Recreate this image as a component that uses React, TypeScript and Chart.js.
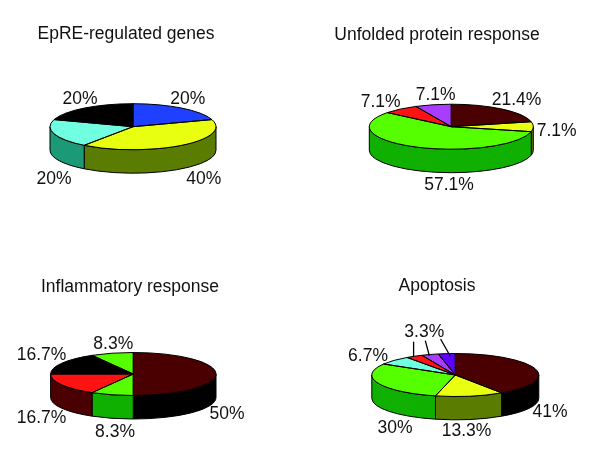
import React, { useEffect, useRef } from "react";
import { Chart, registerables } from "chart.js";

Chart.register(...registerables);

// ---- values ----
const epreValues = [20, 40, 20, 20];
const epreLabels = ["20%", "40%", "20%", "20%"];
const upValues = [21.4, 7.1, 57.1, 7.1, 7.1];
const upLabels = ["21.4%", "7.1%", "57.1%", "7.1%", "7.1%"];
const infValues = [50, 8.3, 16.7, 16.7, 8.3];
const infLabels = ["50%", "8.3%", "16.7%", "16.7%", "8.3%"];
const apoValues = [41, 13.3, 30, 6.7, 3.3, 3.3, 3.3];
const apoLabels = ["41%", "13.3%", "30%", "6.7%", "", "3.3%", ""];

// ---- colours ----
const BLUE = "#1f40ff", YELLOW = "#e8ff10", CYAN = "#70ffe0", BLACK = "#000000";
const MAROON = "#4a0000", GREEN = "#55ff00", RED = "#ff1212", PURPLE = "#a83cff", VIOLET = "#6200ff";
const OLIVE = "#5a7c00", TEAL = "#1c9a78", DGREEN = "#10b000", DBLUE = "#102090";

// ---- layout: label centres relative to the pie centre, leader lines ----
const epreLabelPos = [[54.7, -28], [70.7, 52.7], [-79, 52.7], [-53, -28]];
const upLabelPos = [[65.3, -26.3], [105.3, 4.3], [-2.3, 58.3], [-70.7, -25], [-15.7, -31.7]];
const infLabelPos = [[93.7, 40], [-18.3, 57.7], [-91.7, 43.7], [-91.7, -19], [-20, -29.7]];
const apoLabelPos = [[94.7, 37.3], [11.3, 55.7], [-60.3, 53.3], [-87.3, -19], [0, 0], [-31, -42.7], [0, 0]];
const apoLeaders = [[-41.7, -33.3, -41.7, -18.3], [-30, -34.3, -26, -19.3], [-14.7, -36, -5, -18.7]];

const FONT = "Liberation Sans, Arial, Helvetica, sans-serif";
const FONT_SIZE = 17.5;
const TITLE_COLOR = "#111111";
const CANVAS_H = 229;

type PieCfg = {
  title: string;
  values: number[];
  labels: string[];
  colors: string[];
  sides: string[];
  labelPos: number[][];
  leaders?: number[][];
  left: number; top: number; width: number;
  cx: number; cy: number; titleY: number;
  rx: number; ry: number; depth: number;
};

const pies: PieCfg[] = [
  { title: "EpRE-regulated genes", values: epreValues, labels: epreLabels,
    colors: [BLUE, YELLOW, CYAN, BLACK], sides: [DBLUE, OLIVE, TEAL, BLACK], labelPos: epreLabelPos,
    left: 0, top: 0, width: 252, cx: 133, cy: 126.7, titleY: 34, rx: 83, ry: 23, depth: 23.5 },
  { title: "Unfolded protein response", values: upValues, labels: upLabels,
    colors: [MAROON, YELLOW, GREEN, RED, PURPLE], sides: [BLACK, OLIVE, DGREEN, MAROON, PURPLE], labelPos: upLabelPos,
    left: 274, top: 0, width: 326, cx: 177.3, cy: 126.7, titleY: 35, rx: 82, ry: 22.5, depth: 23.5 },
  { title: "Inflammatory response", values: infValues, labels: infLabels,
    colors: [MAROON, GREEN, RED, BLACK, GREEN], sides: [BLACK, DGREEN, MAROON, BLACK, DGREEN], labelPos: infLabelPos,
    left: 0, top: 229, width: 260, cx: 133.3, cy: 145, titleY: 58, rx: 82.7, ry: 21.5, depth: 23.5 },
  { title: "Apoptosis", values: apoValues, labels: apoLabels,
    colors: [MAROON, YELLOW, GREEN, CYAN, RED, PURPLE, VIOLET], sides: [BLACK, OLIVE, DGREEN, TEAL, MAROON, PURPLE, VIOLET], labelPos: apoLabelPos, leaders: apoLeaders,
    left: 274, top: 229, width: 326, cx: 181.3, cy: 146, titleY: 57, rx: 83.5, ry: 21.5, depth: 23.3 },
];

function makePlugin(p: PieCfg) {
  const k = p.ry / p.rx;
  return {
    id: "tiltedPie",
    afterLayout(chart: any) {
      // centre the title on the whole canvas, not on the padded pie area
      if (chart.titleBlock) {
        chart.titleBlock.left = 0;
        chart.titleBlock.right = p.width;
      }
    },
    beforeDatasetsDraw(chart: any) {
      const { ctx } = chart;
      const arcs = chart.getDatasetMeta(0).data;
      ctx.save();
      ctx.strokeStyle = "#000";
      ctx.lineWidth = 1;
      arcs.forEach((a: any, i: number) => {
        const s = Math.max(a.startAngle, 0);
        const e = Math.min(a.endAngle, Math.PI);
        if (s >= e) return;
        const ry = a.outerRadius * k;
        ctx.beginPath();
        ctx.ellipse(a.x, a.y, a.outerRadius, ry, 0, s, e);
        ctx.ellipse(a.x, a.y + p.depth, a.outerRadius, ry, 0, e, s, true);
        ctx.closePath();
        ctx.fillStyle = p.sides[i];
        ctx.fill();
        ctx.stroke();
      });
      ctx.restore();
    },
    beforeDatasetDraw(chart: any) {
      const { ctx } = chart;
      const a = chart.getDatasetMeta(0).data[0];
      ctx.save();
      ctx.translate(a.x, a.y);
      ctx.scale(1, k);
      ctx.translate(-a.x, -a.y);
    },
    afterDatasetDraw(chart: any) {
      chart.ctx.restore();
    },
    afterDatasetsDraw(chart: any) {
      const { ctx } = chart;
      const arcs = chart.getDatasetMeta(0).data;
      ctx.save();
      ctx.strokeStyle = "#000";
      ctx.lineWidth = 1;
      arcs.forEach((a: any) => {
        ctx.beginPath();
        ctx.moveTo(a.x, a.y);
        ctx.ellipse(a.x, a.y, a.outerRadius, a.outerRadius * k, 0, a.startAngle, a.endAngle);
        ctx.closePath();
        ctx.stroke();
      });
      const c = arcs[0];
      ctx.fillStyle = "#111";
      ctx.font = `${FONT_SIZE}px ${FONT}`;
      ctx.textAlign = "center";
      ctx.textBaseline = "middle";
      p.labels.forEach((t, i) => {
        if (t) ctx.fillText(t, c.x + p.labelPos[i][0], c.y + p.labelPos[i][1]);
      });
      ctx.lineWidth = 1.3;
      (p.leaders || []).forEach((l) => {
        ctx.beginPath();
        ctx.moveTo(c.x + l[0], c.y + l[1]);
        ctx.lineTo(c.x + l[2], c.y + l[3]);
        ctx.stroke();
      });
      ctx.restore();
    },
  };
}

function Pie({ cfg }: { cfg: PieCfg }) {
  const ref = useRef<HTMLCanvasElement>(null);
  useEffect(() => {
    const titleBoxH = FONT_SIZE * 1.2;
    const areaTop = cfg.titleY + titleBoxH / 2;
    const chart = new Chart(ref.current as HTMLCanvasElement, {
      type: "pie",
      data: {
        labels: cfg.labels,
        datasets: [{ data: cfg.values, backgroundColor: cfg.colors, borderWidth: 0, clip: false, hoverOffset: 0 } as any],
      },
      options: {
        animation: false,
        responsive: false,
        radius: cfg.rx,
        layout: {
          padding: {
            left: 2 * cfg.cx - cfg.width,
            right: 0,
            top: 0,
            bottom: CANVAS_H - (2 * cfg.cy - areaTop),
          },
        },
        plugins: {
          legend: { display: false },
          tooltip: { enabled: false },
          title: {
            display: true,
            text: cfg.title,
            color: TITLE_COLOR,
            font: { family: FONT, size: FONT_SIZE, weight: "normal", lineHeight: 1.2 },
            padding: { top: cfg.titleY - titleBoxH / 2, bottom: 0 },
          },
        },
      } as any,
      plugins: [makePlugin(cfg) as any],
    });
    return () => chart.destroy();
  }, [cfg]);
  return (
    <canvas
      ref={ref}
      width={cfg.width}
      height={CANVAS_H}
      style={{ position: "absolute", left: cfg.left, top: cfg.top, width: cfg.width, height: CANVAS_H }}
    />
  );
}

export default function App() {
  return (
    <div style={{ position: "absolute", left: 0, top: 0, width: 600, height: 458, background: "#fff", overflow: "hidden" }}>
      {pies.map((p) => (
        <Pie key={p.title} cfg={p} />
      ))}
    </div>
  );
}
